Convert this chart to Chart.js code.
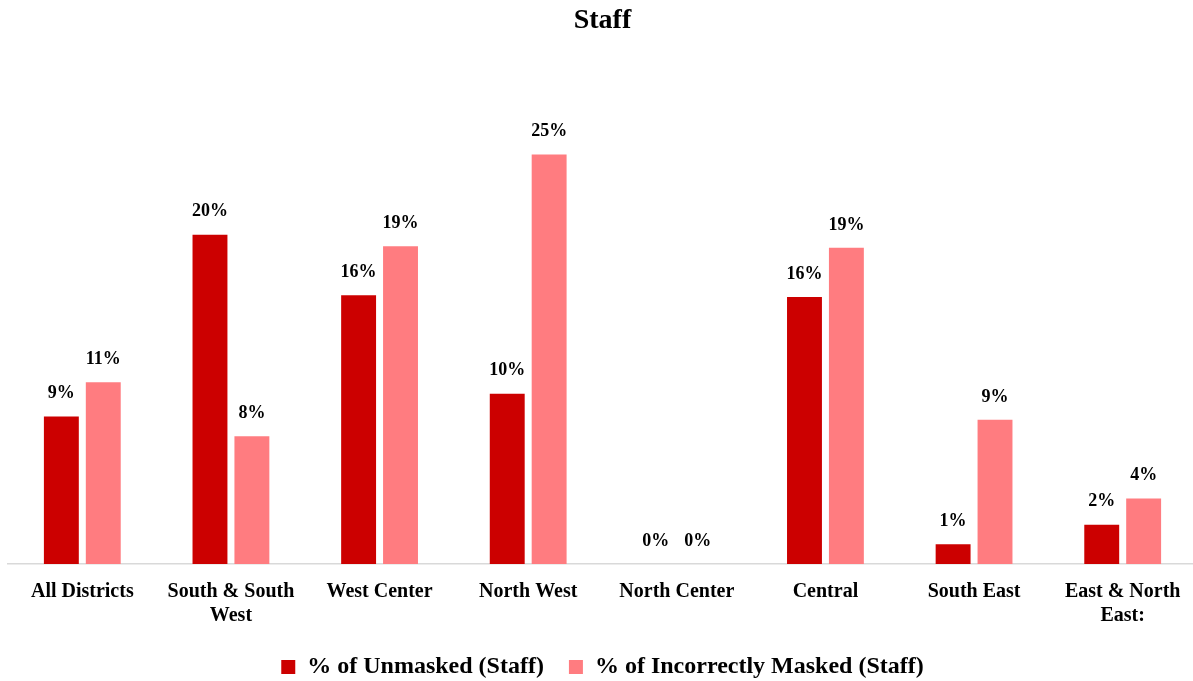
<!DOCTYPE html>
<html>
<head>
<meta charset="utf-8">
<script src="https://cdn.jsdelivr.net/npm/chart.js@4"></script>
<style>
  html,body{margin:0;padding:0;background:#fff;overflow:hidden;}
  #wrap{width:1206px;height:681px;position:relative;}
</style>
</head>
<body>
<div id="wrap"><canvas id="staffChart"></canvas></div>
<script>
const categories = ["All Districts", ["South & South","West"], "West Center", "North West", "North Center", "Central", "South East", ["East & North","East:"]];
const unmasked = [9.0, 20.1, 16.4, 10.4, 0, 16.3, 1.2, 2.4];
const incorrect = [11.1, 7.8, 19.4, 25.0, 0, 19.3, 8.8, 4.0];
const unmaskedLabels = ["9%","20%","16%","10%","0%","16%","1%","2%"];
const incorrectLabels = ["11%","8%","19%","25%","0%","19%","9%","4%"];

const serif = "'Liberation Serif', 'DejaVu Serif', serif";

// draws the percentage text above each bar
const barLabels = {
  id:"barLabels",
  afterDatasetsDraw(chart){
    const ctx = chart.ctx;
    ctx.save();
    ctx.font = "bold 18px " + serif;
    ctx.fillStyle = "#000";
    ctx.textAlign = "center";
    ctx.textBaseline = "middle";
    chart.data.datasets.forEach((ds, di) => {
      chart.getDatasetMeta(di).data.forEach((bar, i) => {
        ctx.fillText(ds.valueLabels[i], bar.x, bar.y - 23);
      });
    });
    ctx.restore();
  }
};

new Chart(document.getElementById("staffChart"), {
  type:"bar",
  data:{
    labels:categories,
    datasets:[
      {label:"% of Unmasked (Staff)", data:unmasked, valueLabels:unmaskedLabels, backgroundColor:"#CC0000",
       categoryPercentage:0.564, barPercentage:0.833},
      {label:"% of Incorrectly Masked (Staff)", data:incorrect, valueLabels:incorrectLabels, backgroundColor:"#FF7C80",
       categoryPercentage:0.564, barPercentage:0.833}
    ]
  },
  options:{
    responsive:true,
    maintainAspectRatio:false,
    animation:false,
    layout:{padding:{left:8, right:9, top:0, bottom:0}},
    plugins:{
      title:{display:true, text:"Staff", color:"#000",
        font:{family:serif, size:28, weight:"bold"}, padding:{top:4, bottom:35}},
      legend:{position:"bottom", maxHeight:51,
        labels:{color:"#000", font:{family:serif, size:24, weight:"bold"},
          boxWidth:14, boxHeight:14, padding:25}},
      tooltip:{enabled:false}
    },
    scales:{
      x:{
        grid:{display:false},
        border:{color:"#d9d9d9", width:1.5},
        ticks:{color:"#000", font:{family:serif, size:20, weight:"bold"}, padding:8, maxRotation:0, autoSkip:false},
        afterFit(scale){ scale.height = 66; }
      },
      y:{display:false, min:0, max:30}
    }
  },
  plugins:[barLabels]
});
</script>
</body>
</html>
